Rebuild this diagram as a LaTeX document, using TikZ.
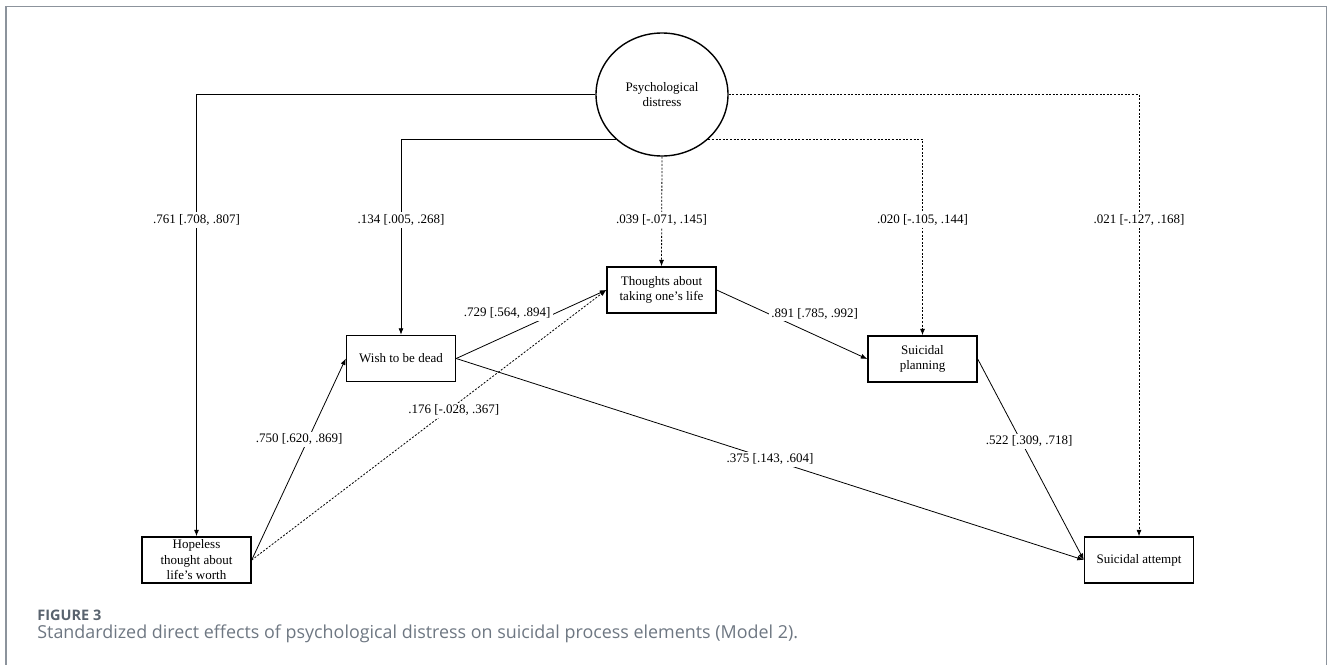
\documentclass[tikz,border=0pt]{standalone}
\usepackage{fontspec}
\setmainfont{Liberation Serif}
\newfontfamily\capfont{Open Sans}
\usetikzlibrary{positioning,shapes,arrows.meta}
\definecolor{framegray}{HTML}{8C939C}
\definecolor{capdark}{HTML}{59636E}
\definecolor{capgray}{HTML}{6E7782}
\def\rowy{220}
\tikzstyle{var}=[draw,line width=1.4pt,minimum width=109pt,minimum height=46pt,
  inner sep=1pt,align=center,font=\fontsize{13}{15.5}\selectfont]
\tikzstyle{latent}=[draw,ellipse,line width=1.4pt,minimum width=132pt,
  minimum height=123pt,inner sep=0pt,align=center,font=\fontsize{13}{15.5}\selectfont]
\tikzstyle{coef}=[fill=white,inner sep=2pt,font=\fontsize{13}{15}\selectfont]
\tikzstyle{ns}=[dash pattern=on 2pt off 1.6pt]
\newcommand{\newVar}[3]{\node[var](#1) at (#3){#2};}
\newcommand{\newPath}[5]{\draw[->,#5] (#1.east) -- node[coef,#4] {#3} (#2.west);}
\newcommand{\newElbow}[5]{\draw[->,#5] (#1) -| (#2) node[coef] at (#2 |- 0,\rowy) {#3};}

\begin{document}
\begin{tikzpicture}[x=1pt,y=-1pt,
      >={Latex[length=6.5pt,width=5pt]},line width=0.8pt
      ]
      \useasboundingbox (0,0) rectangle (1330,664);
      \draw[framegray,line width=1.2pt] (6,700) -- (6,6.5) -- (1326.5,6.5) -- (1326.5,700);
      % latent and observed variables
      \node[latent](pd) at (662,94.5){Psychological\\distress};
      \newVar{thoughts}{Thoughts about\\taking one's life}{661.5,290}
      \newVar{wish}{Wish to be dead}{401,358.5}
      \newVar{hope}{Hopeless\\thought about\\life's worth}{196.5,560}
      \newVar{plan}{Suicidal\\planning}{922.5,359}
      \newVar{att}{Suicidal attempt}{1139,560}
      % direct effects of distress
      \newElbow{pd.west}{hope}{.761 [.708, .807]}{}{}
      \newElbow{pd.224}{wish}{.134 [.005, .268]}{}{}
      \newElbow{pd.316}{plan}{.020 [-.105, .144]}{}{ns}
      \newElbow{pd.east}{att}{.021 [-.127, .168]}{}{ns}
      \draw[->,ns] (pd.south) -- (thoughts.north) node[coef] at (thoughts |- 0,\rowy) {.039 [-.071, .145]};
      % process paths
      \newPath{hope}{wish}{.750 [.620, .869]}{pos=0.6,xshift=-9pt}{}
      \newPath{hope}{thoughts}{.176 [-.028, .367]}{pos=0.57,yshift=-4pt}{ns}
      \newPath{wish}{thoughts}{.729 [.564, .894]}{pos=0.34,yshift=22pt}{}
      \newPath{wish}{att}{.375 [.143, .604]}{pos=0.5}{}
      \newPath{thoughts}{plan}{.891 [.785, .992]}{pos=0.65,yshift=21pt}{}
      \newPath{plan}{att}{.522 [.309, .718]}{pos=0.41,xshift=8pt}{}
      % caption
      \node[anchor=base west,inner sep=0pt,text=capdark,font=\capfont\bfseries\fontsize{14.5}{18}\selectfont] (fig) at (37,620) {FIGURE 3};
      \node[anchor=base west,inner sep=0pt,text=capgray,font=\capfont\fontsize{17.9}{21}\selectfont] (cap) at (37,638) {Standardized direct effects of psychological distress on suicidal process elements (Model 2).};
    \end{tikzpicture}
\end{document}
